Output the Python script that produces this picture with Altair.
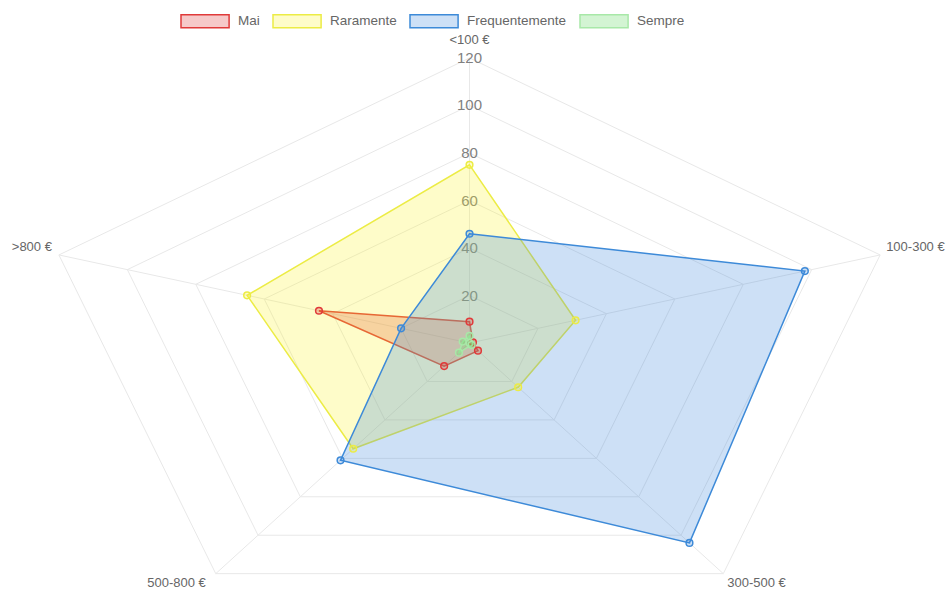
import altair as alt
import pandas as pd
import numpy as np

categories = ["<100 €", "100-300 €", "300-500 €", "500-800 €", ">800 €"]
series = ["Mai", "Raramente", "Frequentemente", "Sempre"]
mai = [9, 1, 4, 12, 44]
raramente = [75, 31, 23, 55, 65]
frequentemente = [46, 98, 104, 61, 20]
sempre = [3, 0, 1, 5, 2]
ticks = [20, 40, 60, 80, 100, 120]
r_max = 120

stroke_colors = ["#e03a3a", "#ecec45", "#3d8ad8", "#a8e8a8"]
fill_colors = ["rgba(220,40,40,0.25)", "rgba(250,245,40,0.25)",
               "rgba(54,132,220,0.25)", "rgba(110,220,110,0.3)"]

angles = np.arange(len(categories)) * 2 * np.pi / len(categories)

rows = []
for s, vals in zip(series, [mai, raramente, frequentemente, sempre]):
    for i, (c, v) in enumerate(zip(categories, vals)):
        rows.append(dict(serie=s, cat=c, idx=i, value=v,
                         x=v * np.sin(angles[i]), y=v * np.cos(angles[i])))
df = pd.DataFrame(rows)

grid_rows = []
for lv in ticks:
    for i in range(len(categories)):
        grid_rows.append(dict(level=lv, idx=i, x=lv * np.sin(angles[i]), y=lv * np.cos(angles[i])))
grid = pd.DataFrame(grid_rows)

spokes = pd.DataFrame(dict(cat=categories, x0=0.0, y0=0.0,
                           x=[r_max * np.sin(a) for a in angles],
                           y=[r_max * np.cos(a) for a in angles]))
tick_df = pd.DataFrame(dict(t=[str(t) for t in ticks], x=0.0, y=[float(t) for t in ticks]))

xs = alt.Scale(domain=[-130.5, 134.1], nice=False, zero=False)
ys = alt.Scale(domain=[-104.8, 144.4], nice=False, zero=False)

legend = alt.Legend(title=None, orient="none", legendX=180, legendY=7, direction="horizontal",
                    symbolType="M-1,-0.5H2.7V0.5H-1Z", symbolSize=676, symbolStrokeWidth=1.5,
                    labelOffset=30, columnPadding=10, labelFontSize=13.5, labelColor="#666666",
                    labelFont="Liberation Sans", padding=0)

fill_enc = alt.Fill("serie:N", scale=alt.Scale(domain=series, range=fill_colors), legend=legend)
stroke_enc = alt.Stroke("serie:N", scale=alt.Scale(domain=series, range=stroke_colors), legend=legend)

base_x = lambda f: alt.X(f, type="quantitative", scale=xs, axis=None)
base_y = lambda f: alt.Y(f, type="quantitative", scale=ys, axis=None)

rings = alt.Chart(grid).mark_line(interpolate="linear-closed", stroke="#e8e8e8", strokeWidth=1).encode(
    x=base_x("x"), y=base_y("y"), detail="level:N", order="idx:Q")

spoke_layer = alt.Chart(spokes).mark_rule(stroke="#e8e8e8", strokeWidth=1).encode(
    x=base_x("x0"), y=base_y("y0"), x2="x", y2="y")

tick_layer = alt.Chart(tick_df).mark_text(color="#808080", fontSize=15, font="Liberation Sans",
                                          baseline="middle", align="center").encode(
    x=base_x("x"), y=base_y("y"), text="t:N")

label_specs = [
    ("center", 0, -18),
    ("left", 6, -8),
    ("left", 4, 9),
    ("right", -10, 9),
    ("right", -7, -8),
]
label_layers = []
for cat, (al, dx, dy) in zip(categories, label_specs):
    label_layers.append(
        alt.Chart(spokes).transform_filter(alt.datum.cat == cat).mark_text(
            align=al, dx=dx, dy=dy, baseline="middle", fontSize=13, color="#666666",
            font="Liberation Sans").encode(x=base_x("x"), y=base_y("y"), text="cat:N"))

polys = alt.Chart(df).mark_line(interpolate="linear-closed", strokeWidth=1.5).encode(
    x=base_x("x"), y=base_y("y"), fill=fill_enc, stroke=stroke_enc, order="idx:Q")

points = alt.Chart(df).mark_point(size=45, strokeWidth=1.5, opacity=1).encode(
    x=base_x("x"), y=base_y("y"), fill=fill_enc, stroke=stroke_enc)

chart = alt.layer(rings, spoke_layer, tick_layer, *label_layers, polys, points).properties(
    width=952, height=592, autosize=alt.AutoSizeParams(type="none"), padding=0
).configure_view(stroke=None)

chart.save("out.html", embed_options={"renderer": "svg", "actions": False})
